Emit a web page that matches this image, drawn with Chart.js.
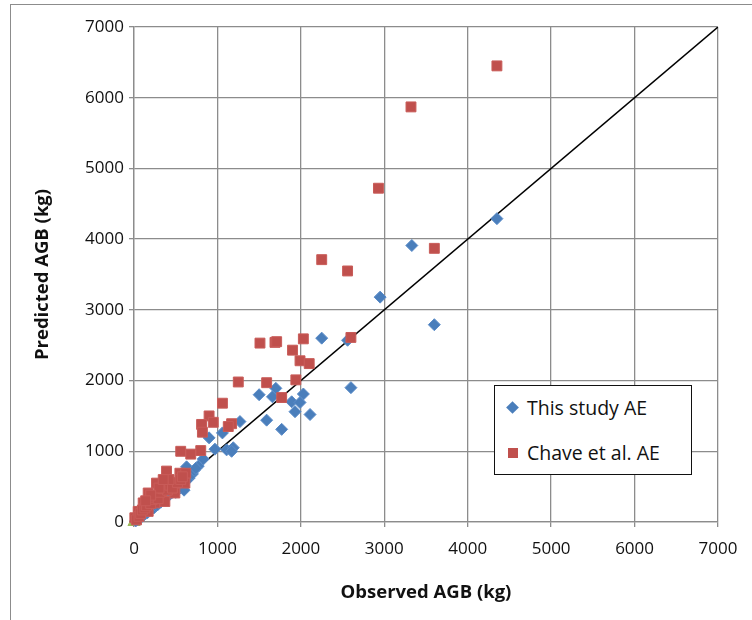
<!DOCTYPE html>
<html>
<head>
<meta charset="utf-8">
<title>Observed vs predicted AGB</title>
<script src="https://cdn.jsdelivr.net/npm/chart.js@4.4.1/dist/chart.umd.min.js"></script>
<style>
  html, body { margin: 0; padding: 0; background: #fff; }
  body { width: 752px; height: 620px; position: relative; overflow: hidden; font-family: "Open Sans", sans-serif; }
  #frame { position: absolute; left: 10px; top: 4px; width: 800px; height: 700px; border: 1px solid #8c8c8c; box-sizing: border-box; }
  #wrap { position: absolute; left: 0; top: 0; width: 752px; height: 620px; }
  #legend { position: absolute; left: 494px; top: 385px; width: 198px; height: 90px; box-sizing: border-box;
            border: 1.5px solid #111; background: #fff; }
  .item { position: absolute; left: 0; height: 30px; width: 100%; }
  .item .mark { position: absolute; }
  .item .txt { position: absolute; left: 32px; top: 0; line-height: 30px; font-size: 19.5px; color: #111; white-space: nowrap; }
</style>
</head>
<body>
<div id="frame"></div>
<div id="wrap"><canvas id="agbChart" width="752" height="620"></canvas></div>
<div id="legend"></div>
<script>
// This study AE: observed vs predicted (kg)
const studyObs  = [4350, 3330, 3600, 2950, 2250, 2560, 2600, 1700, 2030, 1500, 1660, 1890, 1990, 1930, 2110, 1590, 1770,
                   1270, 1060, 900, 970, 1110, 1190, 1170, 830, 770, 630,
                   20, 40, 60, 80, 100, 120, 140, 160, 180, 200, 220, 240, 260, 280, 300, 320, 340, 360, 380, 400,
                   420, 440, 460, 480, 500, 520, 540, 560, 580, 600, 600, 620, 640, 660, 680, 700, 720, 740];
const studyPred = [4290, 3910, 2790, 3180, 2600, 2570, 1900, 1890, 1810, 1800, 1770, 1700, 1690, 1560, 1520, 1440, 1310,
                   1420, 1260, 1190, 1030, 1020, 1050, 1000, 890, 790, 780,
                   15, 30, 50, 60, 90, 100, 120, 130, 160, 170, 190, 200, 230, 240, 270, 280, 300, 330, 340, 370,
                   380, 410, 420, 450, 420, 480, 500, 530, 560, 450, 600, 580, 640, 620, 690, 680, 730, 760];

// Chave et al. AE: observed vs predicted (kg)
const chaveObs  = [4350, 3320, 2930, 2250, 3600, 2560, 2600, 2030, 1510, 1690, 1710, 1900, 1990, 2100, 1590, 1940, 1770,
                   1250, 1060, 900, 810, 950, 1170, 1130, 820, 560, 800, 680,
                   390, 550, 620, 270, 490, 610, 170, 330, 490, 110, 250, 370, 50, 170, 10, 30, 60, 80, 100, 130,
                   150, 200, 220, 240, 290, 310, 350, 400, 430, 460, 520, 560, 580, 300, 420, 200, 140, 350];
const chavePred = [6450, 5870, 4720, 3710, 3870, 3550, 2610, 2590, 2530, 2540, 2550, 2430, 2280, 2240, 1970, 2010, 1760,
                   1980, 1680, 1500, 1380, 1410, 1390, 1350, 1270, 1000, 1010, 960,
                   720, 690, 690, 550, 550, 550, 410, 390, 410, 270, 270, 290, 150, 150, 60, 30, 80, 120, 170, 200,
                   230, 260, 320, 350, 330, 420, 470, 450, 520, 480, 560, 600, 640, 480, 600, 380, 300, 600];

// third series, a single point at the origin (not in legend)
const originObs  = [0];
const originPred = [0];

// 1:1 reference line
const lineX = [0, 7000];
const lineY = [0, 7000];

const axisTicks = [0, 1000, 2000, 3000, 4000, 5000, 6000, 7000];

const seriesNames  = ['This study AE', 'Chave et al. AE'];
const seriesColors = ['#4a7ebb', '#c0504d'];
const GRID = '#8c8c8c';

function toPoints(xs, ys) {
    return xs.map((x, i) => ({ x: x, y: ys[i] }));
}

const tickFont = { family: '"Open Sans", sans-serif', size: 17 };
const titleFont = { family: '"Open Sans", sans-serif', size: 18.5, weight: 'bold' };

const ctx = document.getElementById('agbChart').getContext('2d');
const chart = new Chart(ctx, {
    type: 'scatter',
    data: {
        datasets: [
            {
                label: seriesNames[0],
                data: toPoints(studyObs, studyPred),
                pointStyle: 'rectRot',
                pointRadius: 6,
                backgroundColor: seriesColors[0],
                borderColor: '#5b8cc8',
                borderWidth: 1,
                order: 2,
                clip: false
            },
            {
                label: seriesNames[1],
                data: toPoints(chaveObs, chavePred),
                pointStyle: 'rect',
                pointRadius: 7,
                backgroundColor: seriesColors[1],
                borderColor: '#c95c59',
                borderWidth: 1,
                order: 1,
                clip: false
            },
            {
                label: 'origin',
                data: toPoints(originObs, originPred),
                pointStyle: 'triangle',
                pointRadius: 7,
                backgroundColor: '#9bbb59',
                borderColor: '#9bbb59',
                order: 3,
                clip: false
            },
            {
                label: '1:1',
                type: 'line',
                data: toPoints(lineX, lineY),
                borderColor: '#000',
                borderWidth: 1.5,
                pointRadius: 0,
                fill: false,
                order: 4
            }
        ]
    },
    options: {
        responsive: false,
        animation: false,
        events: [],
        layout: { padding: { left: 0, right: 34, top: 27, bottom: 0 } },
        plugins: {
            legend: { display: false },
            tooltip: { enabled: false }
        },
        scales: {
            x: {
                type: 'linear',
                min: 0,
                max: 7000,
                afterBuildTicks: (scale) => { scale.ticks = axisTicks.map(v => ({ value: v })); },
                afterFit: (scale) => { scale.height = 98; },
                ticks: { font: tickFont, color: '#111', padding: 12, maxRotation: 0, callback: (v) => String(v) },
                grid: { color: GRID, lineWidth: 1.3, tickLength: 5 },
                border: { color: GRID, width: 1.3 },
                title: { display: true, text: 'Observed AGB (kg)', font: titleFont, color: '#111', padding: { top: 0, bottom: 16 } }
            },
            y: {
                type: 'linear',
                min: 0,
                max: 7000,
                afterBuildTicks: (scale) => { scale.ticks = axisTicks.map(v => ({ value: v })); },
                afterFit: (scale) => { scale.width = 134; },
                ticks: { font: tickFont, color: '#111', padding: 5, callback: (v) => String(v) },
                grid: { color: GRID, lineWidth: 1.3, tickLength: 5 },
                border: { color: GRID, width: 1.3 },
                title: { display: true, text: 'Predicted AGB (kg)', font: titleFont, color: '#111', padding: { top: 32, bottom: 0 } }
            }
        }
    }
});

// legend drawn as html inside the plot
const legendBox = document.getElementById('legend');
const markerStyles = [
    'left:13px; top:10px; width:9px; height:9px; transform:rotate(45deg);',
    'left:13px; top:10px; width:10px; height:10px;'
];
const itemTops = [7, 52];
seriesNames.forEach((name, i) => {
    const item = document.createElement('div');
    item.className = 'item';
    item.style.top = itemTops[i] + 'px';
    item.innerHTML = '<span class="mark" style="' + markerStyles[i] + 'background:' + seriesColors[i] + ';"></span>' +
                     '<span class="txt">' + name + '</span>';
    legendBox.appendChild(item);
});
</script>
</body>
</html>
